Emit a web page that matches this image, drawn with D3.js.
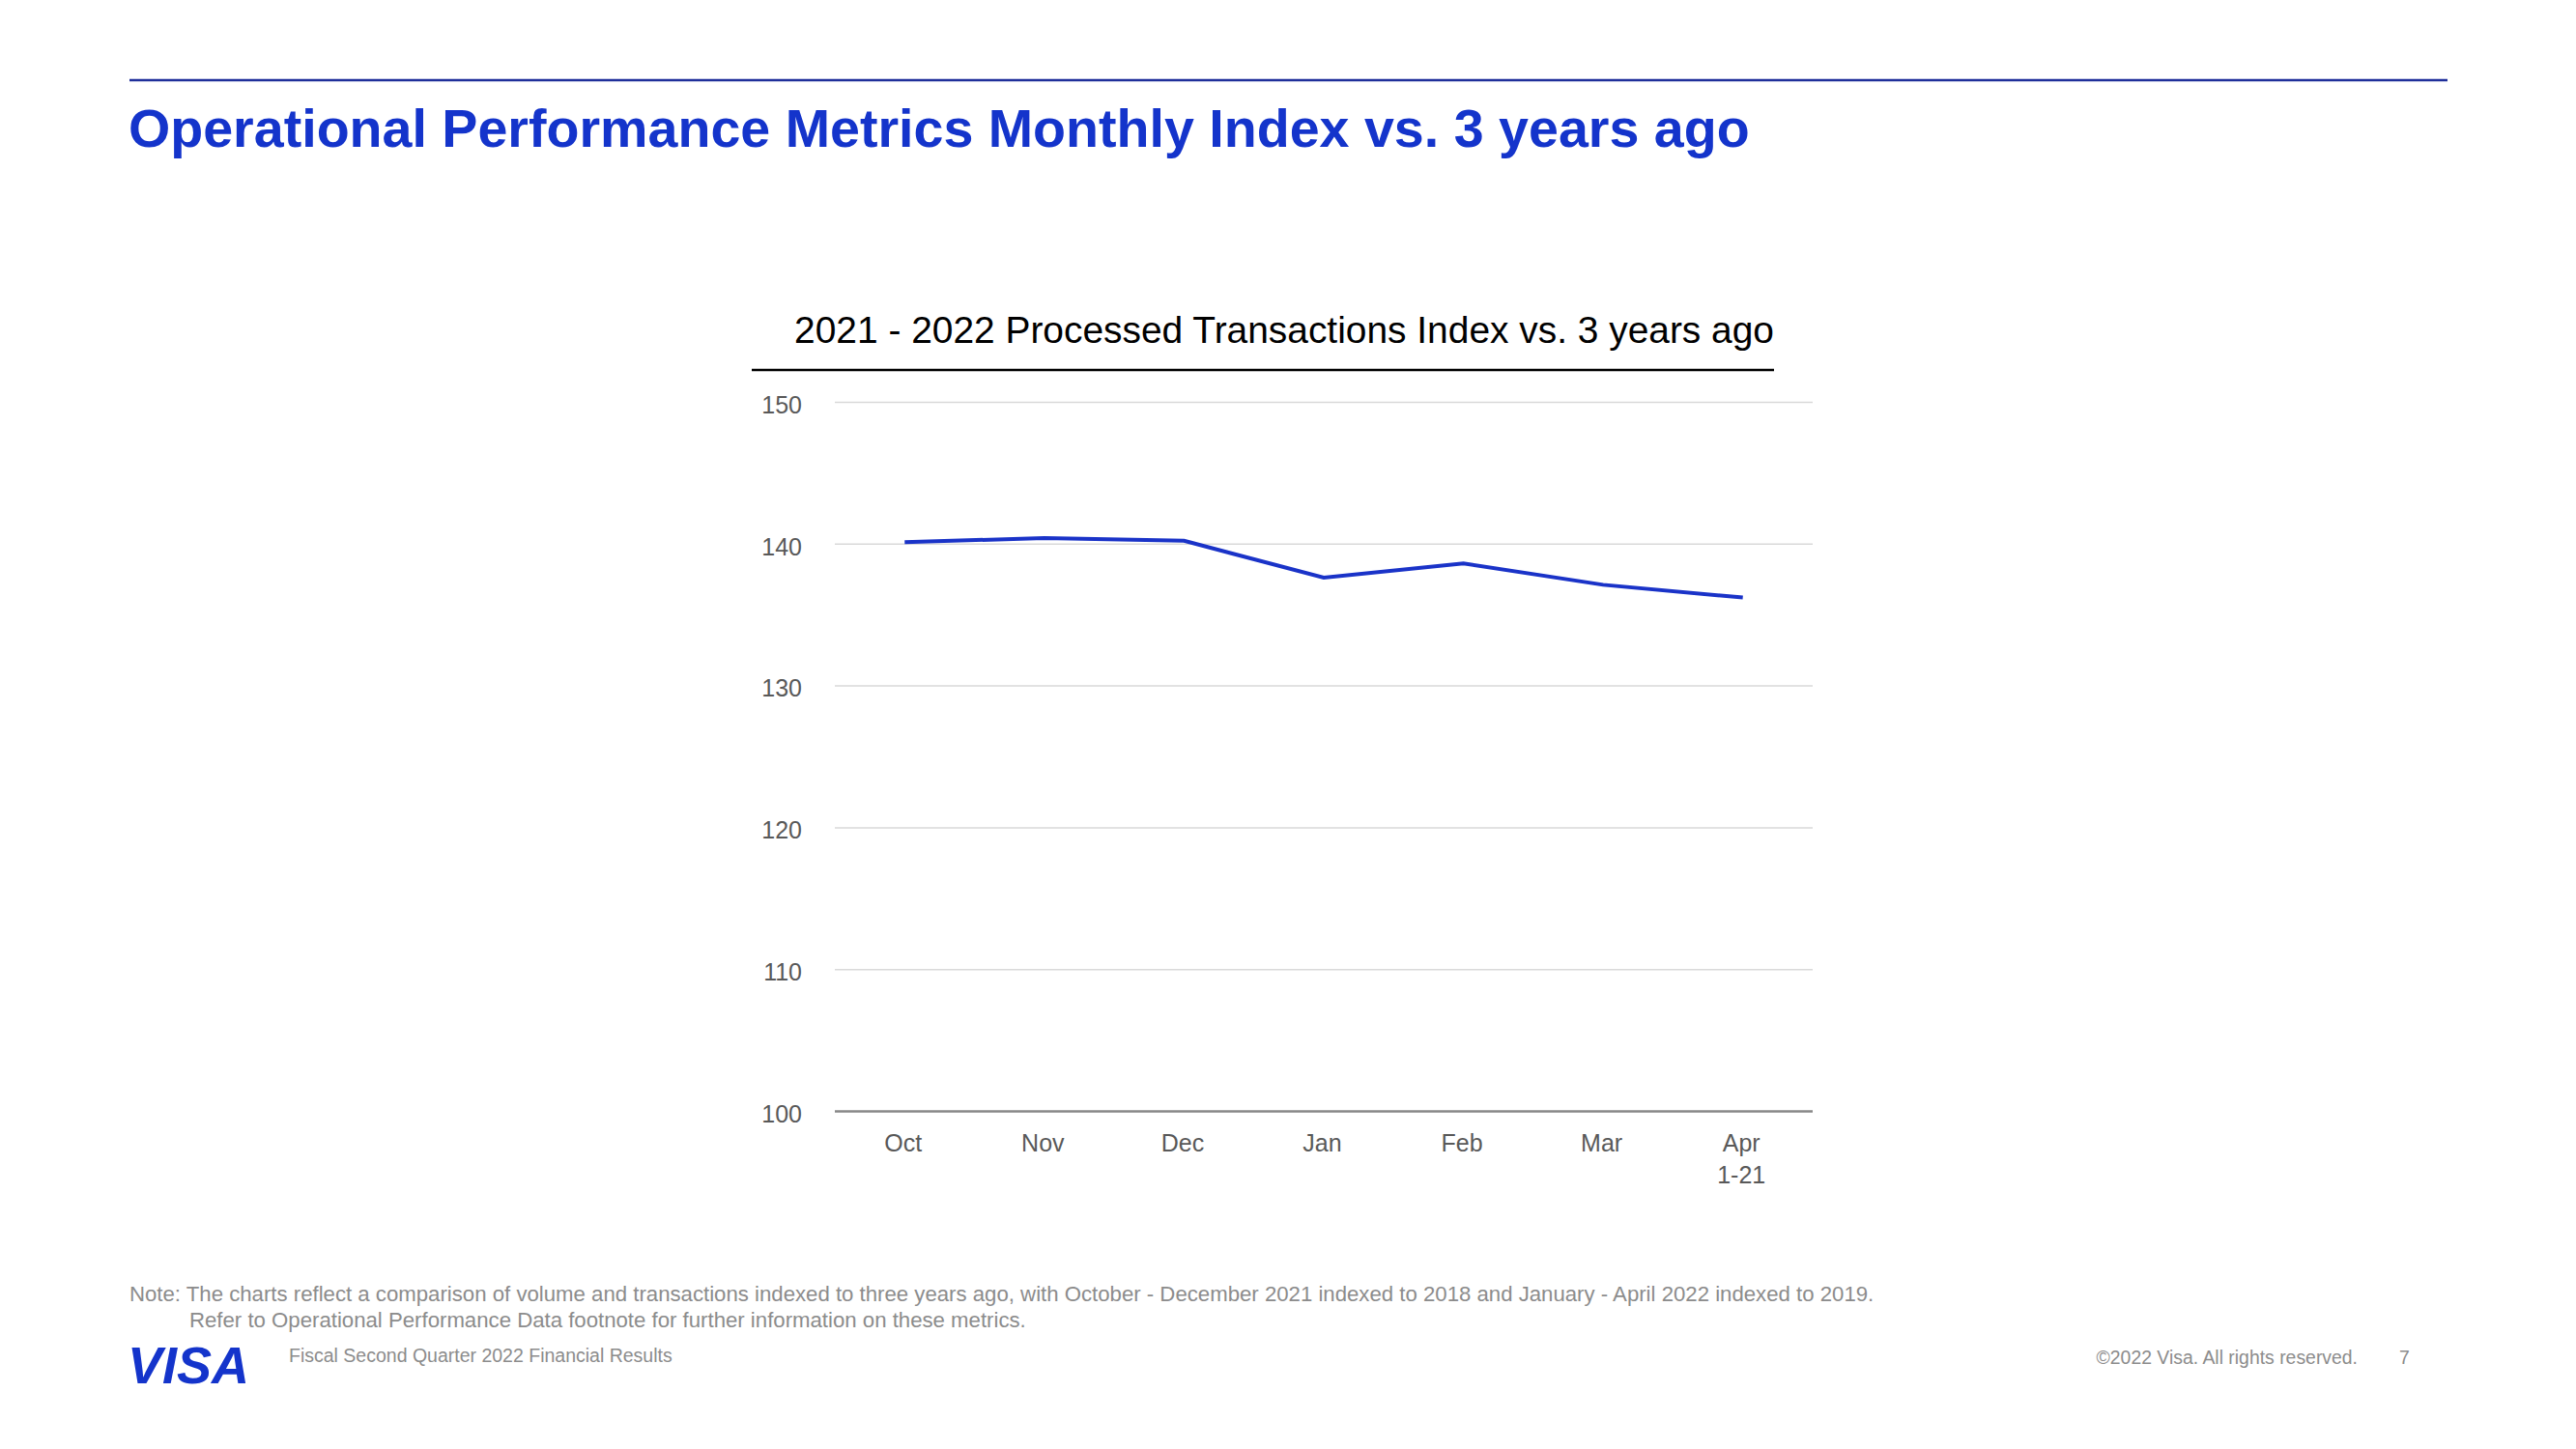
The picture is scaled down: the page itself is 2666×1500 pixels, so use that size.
<!DOCTYPE html>
<html>
<head>
<meta charset="utf-8">
<script src="https://cdn.jsdelivr.net/npm/d3@7"></script>
<style>
  html, body { margin: 0; padding: 0; background: #fff; }
  svg { display: block; font-family: "Liberation Sans", Arial, sans-serif; }
</style>
</head>
<body>
<svg id="chart" width="2666" height="1500"></svg>
<script>
// ---- Data ----
const months = ["Oct", "Nov", "Dec", "Jan", "Feb", "Mar", "Apr\n1-21"];
const transactionsIndex = [140.1, 140.4, 140.2, 137.6, 138.6, 137.1, 136.2];
const yTicks = [100, 110, 120, 130, 140, 150];

const pageTitle = "Operational Performance Metrics Monthly Index vs. 3 years ago";
const chartTitle = "2021 - 2022 Processed Transactions Index vs. 3 years ago";
const noteLine1 = "Note: The charts reflect a comparison of volume and transactions indexed to three years ago, with October - December 2021 indexed to 2018 and January - April 2022 indexed to 2019.";
const noteLine2 = "Refer to Operational Performance Data footnote for further information on these metrics.";
const footerLeft = "Fiscal Second Quarter 2022 Financial Results";
const footerRight = "\u00A92022 Visa. All rights reserved.";
const pageNumber = "7";

// ---- Layout ----
const svg = d3.select("#chart");
const blue = "#1434cb";
const plot = { left: 864, right: 1876, top: 416, bottom: 1150 };

// top rule
svg.append("line").attr("x1", 134).attr("x2", 2533).attr("y1", 83).attr("y2", 83)
  .attr("stroke", "#1f2f9a").attr("stroke-width", 2.5);

// page title
svg.append("text").attr("x", 133).attr("y", 152)
  .attr("font-size", 55.6).attr("font-weight", "bold").attr("fill", blue)
  .text(pageTitle);

// chart title + underline
svg.append("text").attr("x", 1836).attr("y", 355).attr("text-anchor", "end")
  .attr("font-size", 38.9).attr("fill", "#000").text(chartTitle);
svg.append("line").attr("x1", 778).attr("x2", 1836).attr("y1", 383).attr("y2", 383)
  .attr("stroke", "#000").attr("stroke-width", 2.5);

// scales
const x = d3.scalePoint().domain(months).range([plot.left, plot.right]).padding(0.5);
const y = d3.scaleLinear().domain([100, 150]).range([plot.bottom, plot.top]);

// gridlines + y labels
const yAxis = d3.axisLeft(y).tickValues(yTicks).tickSize(-(plot.right - plot.left)).tickPadding(34);
const gy = svg.append("g").attr("transform", `translate(${plot.left},0)`).call(yAxis);
gy.select(".domain").remove();
gy.selectAll(".tick line").attr("stroke", d => d === 100 ? "#888888" : "#d9d9d9")
  .attr("stroke-width", d => d === 100 ? 2.5 : 1.5);
gy.selectAll(".tick text").attr("font-size", 25).attr("fill", "#595959")
  .attr("font-family", "Liberation Sans, Arial, sans-serif").attr("dy", "0.69em")
  .attr("y", -6);

// x axis labels
const xAxis = d3.axisBottom(x).tickSize(0).tickPadding(0);
const gx = svg.append("g").attr("transform", `translate(-2,${plot.bottom})`).call(xAxis);
gx.select(".domain").remove();
gx.selectAll(".tick text").each(function(d) {
  const t = d3.select(this);
  const parts = d.split("\n");
  t.text(null).attr("font-size", 25).attr("fill", "#595959")
    .attr("font-family", "Liberation Sans, Arial, sans-serif").attr("y", 0).attr("dy", null);
  parts.forEach((p, i) => {
    t.append("tspan").attr("x", 0).attr("y", 42 + i * 33).text(p);
  });
});

// line
const line = d3.line().x((d, i) => x(months[i])).y(d => y(d));
svg.append("path").datum(transactionsIndex).attr("d", line)
  .attr("fill", "none").attr("stroke", "#1a33c8").attr("stroke-width", 4)
  .attr("stroke-linejoin", "miter");

// notes
svg.append("text").attr("x", 134).attr("y", 1347).attr("font-size", 22.2).attr("fill", "#8c8c8c").text(noteLine1);
svg.append("text").attr("x", 196).attr("y", 1374).attr("font-size", 22.2).attr("fill", "#8c8c8c").text(noteLine2);

// footer
svg.append("text").attr("x", 132).attr("y", 1432).attr("font-size", 54).attr("font-weight", "bold")
  .attr("font-style", "italic").attr("fill", blue).attr("letter-spacing", 0).text("VISA");
svg.append("text").attr("x", 299).attr("y", 1410).attr("font-size", 19.5).attr("fill", "#8c8c8c").text(footerLeft);
svg.append("text").attr("x", 2440).attr("y", 1412).attr("text-anchor", "end").attr("font-size", 19.4).attr("fill", "#8c8c8c").text(footerRight);
svg.append("text").attr("x", 2483).attr("y", 1412).attr("font-size", 19.4).attr("fill", "#8c8c8c").text(pageNumber);
</script>
</body>
</html>
